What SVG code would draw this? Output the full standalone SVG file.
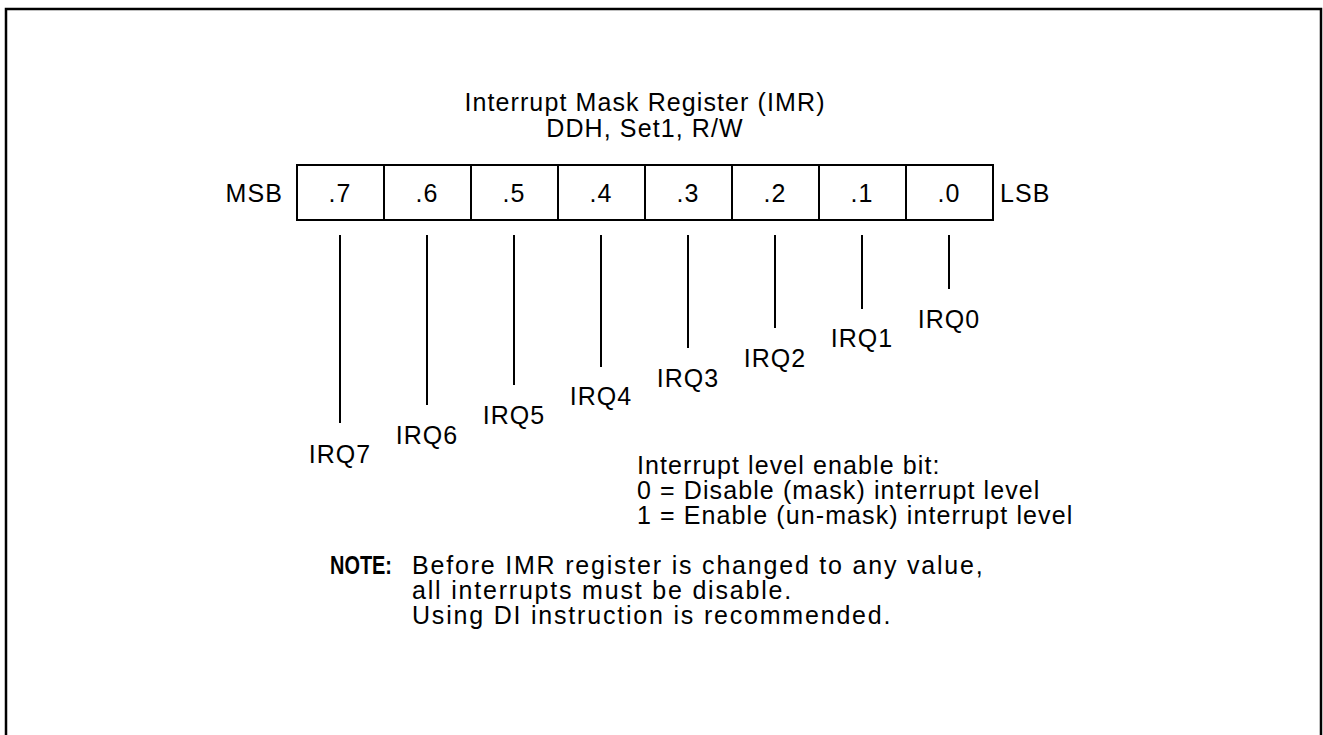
<svg xmlns="http://www.w3.org/2000/svg" width="1323" height="735" viewBox="0 0 1323 735">
<style>
text{font-family:"Liberation Sans",Arial,sans-serif;font-size:25px;letter-spacing:1.1px;fill:#000}
.c{text-anchor:middle}
.b{font-weight:bold;letter-spacing:0}
.n{letter-spacing:1.8px}
.ln{stroke:#000;stroke-width:2;fill:none}
</style>
<rect width="1323" height="735" fill="#fff"/>
<path d="M6,735 V9 H1321 V735" fill="none" stroke="#000" stroke-width="2.5"/>
<g id="title">
<text class="c" x="645" y="111">Interrupt Mask Register (IMR)</text>
<text class="c" x="645" y="137">DDH, Set1, R/W</text>
</g>
<g id="register">
<rect x="297" y="165" width="696" height="55" class="ln"/>
<path class="ln" d="M384,165V220M471,165V220M558,165V220M645,165V220M732,165V220M819,165V220M906,165V220"/>
<text x="283" y="202" style="text-anchor:end">MSB</text>
<text class="c" x="340" y="202">.7</text>
<text class="c" x="427" y="202">.6</text>
<text class="c" x="514" y="202">.5</text>
<text class="c" x="601" y="202">.4</text>
<text class="c" x="688" y="202">.3</text>
<text class="c" x="775" y="202">.2</text>
<text class="c" x="862" y="202">.1</text>
<text class="c" x="949" y="202">.0</text>
<text x="1000" y="202">LSB</text>
</g>
<g id="connectors">
<path class="ln" d="M340,235V423M427,235V405M514,235V385M601,235V367M688,235V348M775,235V328M862,235V309M949,235V289"/>
</g>
<g id="irq-labels">
<text class="c" x="340" y="463">IRQ7</text>
<text class="c" x="427" y="444">IRQ6</text>
<text class="c" x="514" y="424">IRQ5</text>
<text class="c" x="601" y="405">IRQ4</text>
<text class="c" x="688" y="387">IRQ3</text>
<text class="c" x="775" y="367">IRQ2</text>
<text class="c" x="862" y="347">IRQ1</text>
<text class="c" x="949" y="328">IRQ0</text>
</g>
<g id="legend">
<text x="637" y="474">Interrupt level enable bit:</text>
<text x="637" y="499">0 = Disable (mask) interrupt level</text>
<text x="637" y="524">1 = Enable (un-mask) interrupt level</text>
</g>
<g id="note">
<text class="b" x="330" y="574" textLength="62" lengthAdjust="spacingAndGlyphs">NOTE:</text>
<text class="n" x="412" y="574">Before IMR register is changed to any value,</text>
<text class="n" x="412" y="599">all interrupts must be disable.</text>
<text class="n" x="412" y="624">Using DI instruction is recommended.</text>
</g>
</svg>
